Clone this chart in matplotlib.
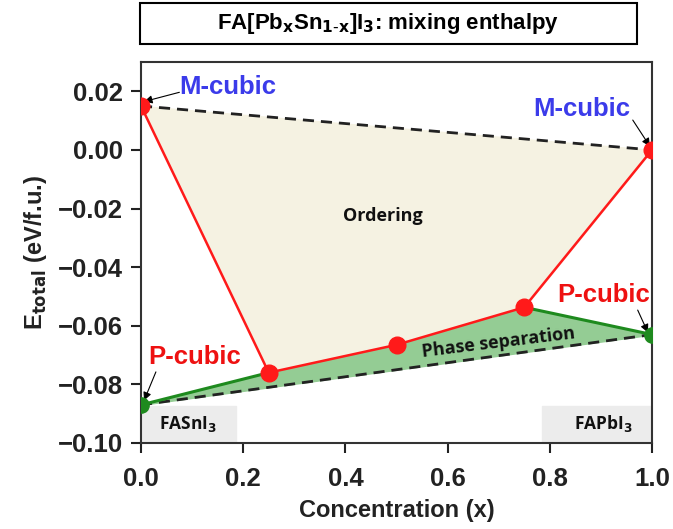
# mixing enthalpy chart for FA[PbxSn1-x]I3
import matplotlib.pyplot as plt
from matplotlib.patches import Rectangle

# data
x_conc = [0.0, 0.25, 0.5, 0.75, 1.0]
e_ordering = [0.015, -0.076, -0.0665, -0.0537, 0.0]   # red path
x_green_left = [0.0, 0.25]
e_green_left = [-0.087, -0.076]
x_green_right = [0.75, 1.0]
e_green_right = [-0.0537, -0.063]
x_ends = [0.0, 1.0]
e_mcubic = [0.015, 0.0]     # upper dashed line
e_pcubic = [-0.087, -0.063]  # lower dashed line

xticks = [0.0, 0.2, 0.4, 0.6, 0.8, 1.0]
yticks = [-0.10, -0.08, -0.06, -0.04, -0.02, 0.00, 0.02]

plt.rcParams['font.family'] = 'Liberation Sans'
lab_font = 'Open Sans'

fig = plt.figure(figsize=(6.73, 5.29), dpi=100)
ax = fig.add_axes([141 / 673, 1 - 443 / 529, 511 / 673, 381 / 529])

# filled regions
ax.fill_between(x_conc, e_ordering, [e_mcubic[0] + (e_mcubic[1] - e_mcubic[0]) * xv for xv in x_conc],
                color='#f5f2e2', zorder=1)
x_low = [0.0, 0.25, 0.5, 0.75, 1.0]
e_low = [e_green_left[0], e_ordering[1], e_ordering[2], e_ordering[3], e_green_right[1]]
e_dash = [e_pcubic[0] + (e_pcubic[1] - e_pcubic[0]) * xv for xv in x_low]
ax.fill_between(x_low, e_low, e_dash, color='#94cc94', zorder=1)

# dashed lines
ax.plot(x_ends, e_mcubic, ls='--', color='#222222', lw=2, dashes=(4, 2.5), zorder=2)
ax.plot(x_ends, e_pcubic, ls='--', color='#222222', lw=2, dashes=(4, 2.5), zorder=2)

# green and red lines
ax.plot(x_green_left, e_green_left, color='#1e8a1e', lw=2.2, zorder=3)
ax.plot(x_green_right, e_green_right, color='#1e8a1e', lw=2.2, zorder=3)
ax.plot(x_ends, [e_green_left[0], e_green_right[1]], 'o', color='#1e8a1e', ms=11, zorder=4)
ax.plot(x_conc, e_ordering, '-o', color='#ff1a1a', lw=1.8, ms=12, zorder=5)

# corner label boxes
ax.add_patch(Rectangle((0.0, -0.10), 0.185, 0.0125, color='#ececec', zorder=0.5))
ax.add_patch(Rectangle((0.785, -0.10), 0.215, 0.0125, color='#ececec', zorder=0.5))
ax.text(0.092, -0.0935, 'FASnI$_\\mathbf{3}$', ha='center', va='center', fontsize=12.5,
        fontweight='bold', family=lab_font, color='#111111')
ax.text(0.905, -0.0935, 'FAPbI$_\\mathbf{3}$', ha='center', va='center', fontsize=12.5,
        fontweight='bold', family=lab_font, color='#111111')

# region labels
ax.text(0.474, -0.0225, 'Ordering', ha='center', va='center', fontsize=13,
        fontweight='bold', family=lab_font, color='#111111')
ax.text(0.70, -0.0656, 'Phase separation', ha='center', va='center', fontsize=13,
        fontweight='bold', family=lab_font, color='#111111', rotation=7)

# phase annotations
arr = dict(arrowstyle='-|>', color='black', lw=0.8, mutation_scale=12)
blue = '#3b3bea'
red = '#ee1111'
ax.annotate('M-cubic', xy=(0.006, 0.0165), xytext=(0.17, 0.0213), color=blue,
            fontsize=18.5, fontweight='bold', ha='center', va='center',
            arrowprops=dict(arr, shrinkA=0, shrinkB=0, patchA=None, relpos=(0.0, 0.3)))
ax.annotate('M-cubic', xy=(0.996, 0.0012), xytext=(0.862, 0.0141), color=blue,
            fontsize=18.5, fontweight='bold', ha='center', va='center',
            arrowprops=dict(arr, shrinkA=0, shrinkB=0, relpos=(1.0, 0.2)))
ax.annotate('P-cubic', xy=(0.992, -0.0623), xytext=(0.906, -0.0496), color=red,
            fontsize=18.5, fontweight='bold', ha='center', va='center',
            arrowprops=dict(arr, shrinkA=0, shrinkB=0, relpos=(0.85, 0.0)))
ax.annotate('P-cubic', xy=(0.006, -0.0855), xytext=(0.104, -0.0707), color=red,
            fontsize=18.5, fontweight='bold', ha='center', va='center',
            arrowprops=dict(arr, shrinkA=0, shrinkB=0, relpos=(0.1, 0.0)))

# axes style
ax.set_xlim(0, 1)
ax.set_ylim(-0.10, 0.03)
ax.set_xticks(xticks)
ax.set_yticks(yticks)
ax.set_xticklabels([f'{v:.1f}' for v in xticks])
ax.set_yticklabels([f'{v:.2f}'.replace('-', '\u2212') for v in yticks])
ax.tick_params(direction='out', length=7, width=1.5, labelsize=18.5, colors='#222222')
ax.tick_params(axis='x', pad=10)
ax.tick_params(axis='y', pad=6)
for lab in ax.get_xticklabels() + ax.get_yticklabels():
    lab.set_fontweight('bold')
for sp in ax.spines.values():
    sp.set_linewidth(1.5)
    sp.set_color('#333333')
ax.set_xlabel('Concentration (x)', fontsize=17, fontweight='bold', color='#222222', labelpad=6)
ax.set_ylabel('E$_\\mathbf{total}$ (eV/f.u.)', fontsize=17, fontweight='bold', color='#222222', labelpad=6)

# title in a box
fig.add_artist(Rectangle((140 / 673, 1 - 44 / 529), 497 / 673, 41 / 529, transform=fig.transFigure,
                         fill=False, edgecolor='black', lw=1.5))
fig.text(388 / 673, 1 - 24 / 529, 'FA[Pb$_\\mathbf{x}$Sn$_\\mathbf{1\\text{-}x}$]I$_\\mathbf{3}$: mixing enthalpy',
         ha='center', va='center', fontsize=16, fontweight='bold')

plt.savefig('out.png', dpi=100)
